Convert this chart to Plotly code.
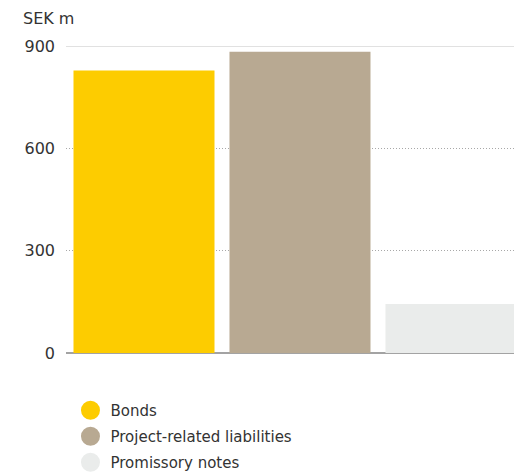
import plotly.graph_objects as go

categories = ["Bonds", "Project-related liabilities", "Promissory notes"]
values = [828, 883, 144]
colors = ["#FDCC00", "#B8A992", "#EAECEB"]
tick_vals = [0, 300, 600, 900]
tick_text = ["0", "300", "600", "900"]
unit_label = "SEK m"

FONT = "DejaVu Sans, Noto Sans, sans-serif"
FS = 16
LFS = 15
TXT = "#333333"

fig = go.Figure()
fig.add_trace(go.Bar(
    x=categories, y=values, marker=dict(color=colors, line=dict(width=0)),
    showlegend=False, hoverinfo="x+y",
))
for i, (cat, col) in enumerate(zip(categories, colors)):
    fig.add_trace(go.Scatter(
        x=[None], y=[None], mode="markers", name=cat,
        legendgroup=f"g{i}",
        marker=dict(symbol="circle", size=16, color=col, line=dict(color=col, width=3)),
    ))

fig.update_layout(
    width=514, height=472, autosize=False,
    margin=dict(l=66, r=0, t=46, b=119, pad=0, autoexpand=False),
    paper_bgcolor="white", plot_bgcolor="white",
    font=dict(family=FONT, size=FS, color=TXT),
    bargap=0.096,
    xaxis=dict(type="category", range=[-0.5, 2.372], showticklabels=False,
               showgrid=False, showline=False, zeroline=False, ticks=""),
    yaxis=dict(range=[0, max(tick_vals)], tickvals=tick_vals, ticktext=tick_text,
               showgrid=True, gridcolor="#a8a8a8", griddash="1px,2px", gridwidth=1,
               zeroline=True, zerolinecolor="#a3a3a3", zerolinewidth=2,
               showline=False, ticks="", ticklabelstandoff=10,
               tickfont=dict(size=FS, color=TXT)),
    legend=dict(orientation="v", x=0.01, xanchor="left", y=-0.1335, yanchor="top",
                tracegroupgap=3.5, font=dict(size=LFS, color=TXT),
                bgcolor="rgba(0,0,0,0)", itemclick=False, itemdoubleclick=False),
    annotations=[dict(text=unit_label, xref="paper", yref="paper",
                      x=-45/448, y=1 + 27/307, xanchor="left", yanchor="middle",
                      showarrow=False, font=dict(size=FS, color=TXT))],
    shapes=[dict(type="line", xref="paper", yref="y", x0=0, x1=1,
                 y0=max(tick_vals), y1=max(tick_vals),
                 line=dict(color="#c4c4c4", width=1), layer="below")],
)

fig.write_html("out.html", config={"displayModeBar": False},
               post_script="document.body.style.margin='0';document.body.style.overflow='hidden';")
